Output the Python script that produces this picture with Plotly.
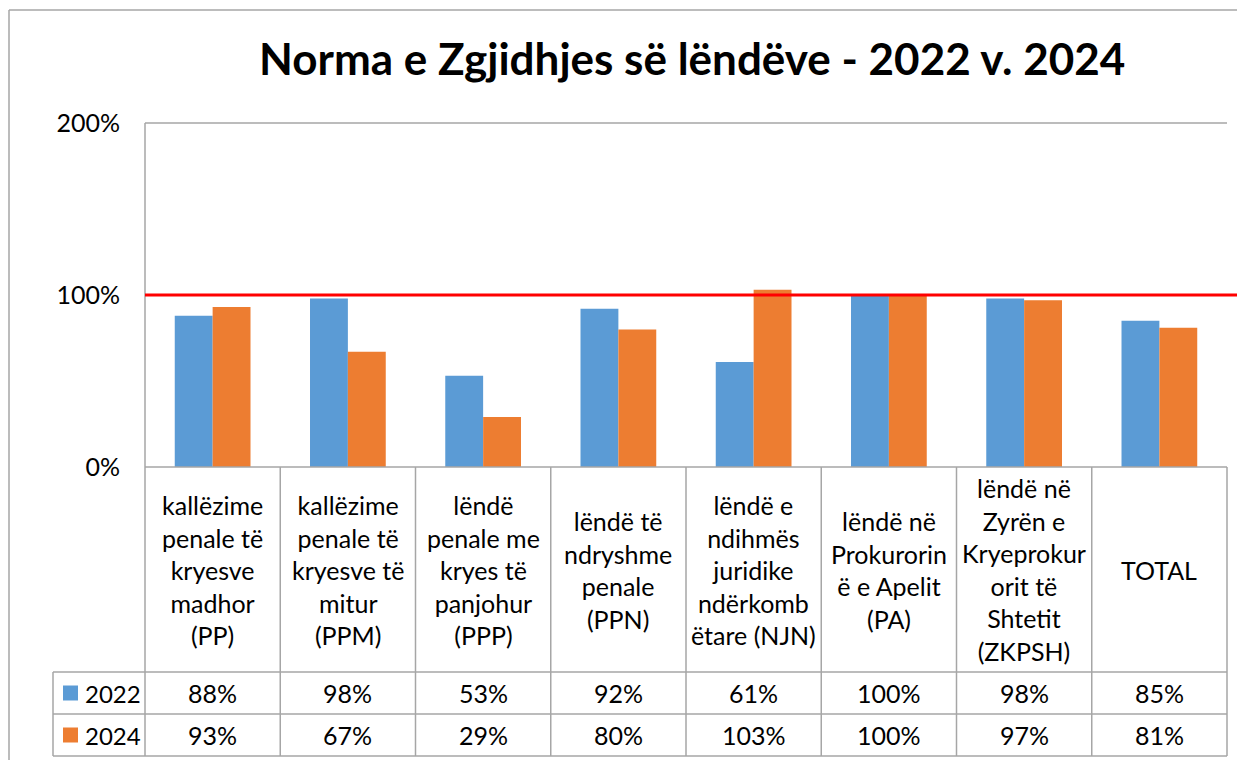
import plotly.graph_objects as go

# ---------------- data ----------------
categories = [
    "kallëzime<br>penale të<br>kryesve<br>madhor<br>(PP)",
    "kallëzime<br>penale të<br>kryesve të<br>mitur<br>(PPM)",
    "lëndë<br>penale me<br>kryes të<br>panjohur<br>(PPP)",
    "lëndë të<br>ndryshme<br>penale<br>(PPN)",
    "lëndë e<br>ndihmës<br>juridike<br>ndërkomb<br>ëtare (NJN)",
    "lëndë në<br>Prokurorin<br>ë e Apelit<br>(PA)",
    "lëndë në<br>Zyrën e<br>Kryeprokur<br>orit të<br>Shtetit<br>(ZKPSH)",
    "TOTAL",
]
series_names = ["2022", "2024"]
values_2022 = [0.88, 0.98, 0.53, 0.92, 0.61, 1.00, 0.98, 0.85]
values_2024 = [0.93, 0.67, 0.29, 0.80, 1.03, 1.00, 0.97, 0.81]
target = 1.0
y_ticks = [0, 1, 2]
y_tick_labels = ["0%", "100%", "200%"]
title = "Norma e Zgjidhjes së lëndëve - 2022 v. 2024"

colors = ["#5B9BD5", "#ED7D31"]
FONT = "Lato"
PAGE_W, PAGE_H = 1245, 760
OFF = 8  # default page body margin
W, H = PAGE_W - OFF, PAGE_H - OFF
# plot area in page pixels
PL, PR, PT, PB = 145, 1227, 123, 467
Y_MAX = 2.0
GRID = "#A6A6A6"
TXT = 25


def px(x):
    return (x - PL) / (PR - PL)


def py(y):
    return (PB - y) / (PB - PT)


n = len(categories)
xs = list(range(n))

fig = go.Figure()
for name, vals, col in zip(series_names, [values_2022, values_2024], colors):
    fig.add_trace(go.Bar(
        x=xs, y=vals, name=name, marker=dict(color=col, line=dict(width=0)),
        hoverinfo="skip",
    ))

shapes = []
ann = []


def hline(y, x0, x1, color=GRID, width=1.5):
    shapes.append(dict(type="line", xref="paper", yref="paper", x0=x0, x1=x1,
                       y0=y, y1=y, line=dict(color=color, width=width)))


def vline(x, y0, y1, color=GRID, width=1.5):
    shapes.append(dict(type="line", xref="paper", yref="paper", x0=x, x1=x,
                       y0=y0, y1=y1, line=dict(color=color, width=width)))


# outer chart border
hline(py(10), px(9), px(1260))
vline(px(9), py(10), py(780))

# top gridline & left axis line
hline(1, 0, 1)
vline(0, 1, py(756))

# table geometry
CAT_TOP, CAT_BOT, ROW1_BOT, ROW2_BOT = 467, 672, 714, 756
LEG_L = 53
hline(py(CAT_TOP), 0, 1)
for yy in [CAT_BOT, ROW1_BOT, ROW2_BOT]:
    hline(py(yy), px(LEG_L), 1)
vline(px(LEG_L), py(CAT_BOT), py(ROW2_BOT))
for i in range(1, n + 1):
    vline(i / n, py(CAT_TOP), py(ROW2_BOT))

# red target line
hline(target / Y_MAX, 0, px(1245), color="#FF0000", width=3)

# category labels
for i, c in enumerate(categories):
    ann.append(dict(x=(i + 0.5) / n, xref="paper", y=py((CAT_TOP + CAT_BOT) / 2), yref="paper",
                    text=c, showarrow=False, xanchor="center", yanchor="middle",
                    font=dict(family=FONT, size=TXT, color="#000000"), align="center"))

# data rows
row_centers = [(CAT_BOT + ROW1_BOT) / 2, (ROW1_BOT + ROW2_BOT) / 2]
for r, (name, vals, col) in enumerate(zip(series_names, [values_2022, values_2024], colors)):
    yc = py(row_centers[r])
    for i, v in enumerate(vals):
        ann.append(dict(x=(i + 0.5) / n, xref="paper", y=yc, yref="paper",
                        text=f"{round(v * 100)}%", showarrow=False,
                        xanchor="center", yanchor="middle",
                        font=dict(family=FONT, size=TXT, color="#000000")))
    # legend key
    shapes.append(dict(type="rect", xref="paper", yref="paper", x0=px(63), x1=px(78),
                       y0=py(row_centers[r] - 7.5), y1=py(row_centers[r] + 7.5),
                       fillcolor=col, line=dict(width=0)))
    ann.append(dict(x=px(83), xref="paper", y=yc, yref="paper", text=name,
                    showarrow=False, xanchor="left", yanchor="middle",
                    font=dict(family=FONT, size=24, color="#000000")))

ann.append(dict(x=px(692), xref="paper", y=py(58), yref="paper", text=f"<b>{title}</b>",
                showarrow=False, xanchor="center", yanchor="middle",
                font=dict(family=FONT, size=44, color="#000000")))

fig.update_layout(
    width=W, height=H, autosize=False,
    margin=dict(l=PL - OFF, r=PAGE_W - PR, t=PT - OFF, b=PAGE_H - PB, pad=0),
    paper_bgcolor="white", plot_bgcolor="white",
    barmode="group", bargap=0.44, bargroupgap=0,
    showlegend=False,
    shapes=shapes, annotations=ann,
    xaxis=dict(range=[-0.5, n - 0.5], showticklabels=False, showgrid=False,
               zeroline=False, showline=False, fixedrange=True),
    yaxis=dict(range=[0, Y_MAX], tickvals=y_ticks, ticktext=y_tick_labels,
               showgrid=False, zeroline=False, showline=False,
               ticks="", ticklabelstandoff=24,
               tickfont=dict(family=FONT, size=TXT, color="#000000"), fixedrange=True),
)

fig.write_html("out.html", config={"displayModeBar": False})
